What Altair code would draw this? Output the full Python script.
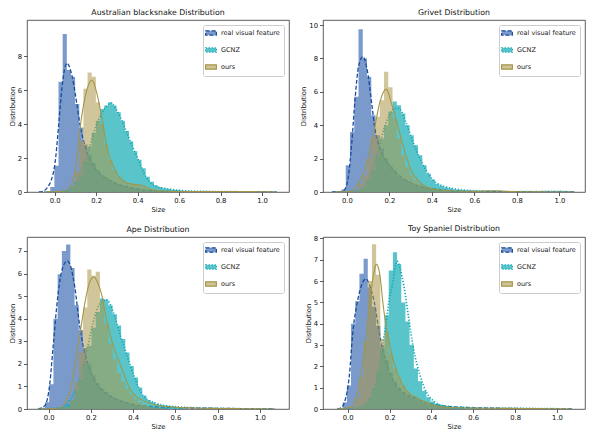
import altair as alt
import pandas as pd

SERIES = ["real visual feature", "GCNZ", "ours"]
TITLES = ["Australian blacksnake Distribution", "Grivet Distribution",
          "Ape Distribution", "Toy Spaniel Distribution"]
X_DOMAINS = [[-0.133, 1.13], [-0.112, 1.12], [-0.102, 1.137], [-0.118, 1.134]]
Y_DOMAINS = [[0, 10.15], [0, 10.3], [0, 7.62], [0, 8.07]]
Y_TICKS = [[0, 2, 4, 6, 8], [0, 2, 4, 6, 8, 10], [0, 1, 2, 3, 4, 5, 6, 7],
           [0, 1, 2, 3, 4, 5, 6, 7, 8]]
X_TICKS = [0.0, 0.2, 0.4, 0.6, 0.8, 1.0]
BIN_WIDTH = 0.02

# ---------- histogram heights (first bin left edge, heights) ----------
# Panel 1: Australian blacksnake
BLUE_1_START = -0.041
BLUE_1 = [0.05, 0.3, 1.55, 6.5, 9.33, 7.2, 6.8, 5.2, 3.8, 2.8, 2.2, 1.7, 1.3, 1.0, 0.85,
          0.7, 0.55, 0.45, 0.35, 0.3, 0.25, 0.2, 0.15, 0.12, 0.1, 0.08, 0.06, 0.05, 0.04, 0.03]
CYAN_1_START = 0.059
CYAN_1 = [0.1, 0.3, 0.6, 1.0, 1.8, 2.7, 3.5, 4.2, 4.9, 5.1, 5.3, 5.1, 4.7, 4.2, 3.6,
          3.0, 2.4, 1.9, 1.4, 0.9, 0.6, 0.4, 0.3, 0.22, 0.17, 0.14, 0.12, 0.09, 0.07, 0.05]
OURS_1_START = 0.059
OURS_1 = [0.1, 0.4, 1.2, 3.0, 6.1, 7.05, 6.8, 5.3, 4.0, 2.8, 1.9, 1.3, 0.9, 0.7, 0.55,
          0.5, 0.45, 0.4, 0.3, 0.2, 0.1, 0.06, 0.04]
# Panel 2: Grivet
BLUE_2_START = -0.045
BLUE_2 = [0.05, 0.15, 1.6, 3.6, 5.7, 9.75, 8.0, 6.9, 4.6, 3.4, 2.6, 2.0, 1.6, 1.3, 1.0,
          0.8, 0.65, 0.5, 0.4, 0.35, 0.28, 0.22, 0.18, 0.15, 0.12, 0.1, 0.08, 0.06, 0.05, 0.04]
CYAN_2_START = 0.035
CYAN_2 = [0.05, 0.12, 0.3, 0.7, 1.3, 2.2, 3.2, 4.0, 4.8, 5.42, 5.2, 4.7, 4.0, 3.4, 2.8,
          2.2, 1.6, 1.1, 0.75, 0.5, 0.38, 0.28, 0.22, 0.17, 0.13, 0.1, 0.08, 0.07, 0.06, 0.05]
OURS_2_START = 0.035
OURS_2 = [0.1, 0.5, 1.0, 2.0, 3.3, 4.5, 5.5, 7.2, 6.27, 4.4, 3.2, 2.2, 1.5, 1.0, 0.7,
          0.5, 0.35, 0.25, 0.18, 0.12, 0.09, 0.07, 0.05]
# Panel 3: Ape
BLUE_3_START = -0.037
BLUE_3 = [0.05, 0.3, 1.1, 4.0, 5.97, 7.0, 7.29, 6.25, 4.6, 3.5, 2.7, 2.0, 1.5, 1.15, 0.9,
          0.75, 0.6, 0.5, 0.42, 0.35, 0.28, 0.22, 0.18, 0.15, 0.12, 0.1, 0.08, 0.07, 0.06, 0.05]
CYAN_3_START = 0.043
CYAN_3 = [0.05, 0.1, 0.2, 0.4, 0.8, 1.3, 2.0, 2.8, 3.6, 4.3, 4.9, 4.85, 4.6, 4.2, 3.7,
          3.1, 2.5, 1.9, 1.4, 0.95, 0.6, 0.4, 0.3, 0.22, 0.18, 0.15, 0.12, 0.1, 0.08, 0.06]
OURS_3_START = 0.063
OURS_3 = [0.05, 0.1, 0.4, 1.2, 2.5, 4.5, 6.18, 5.9, 6.08, 4.8, 3.8, 2.9, 2.2, 1.6, 1.2,
          0.9, 0.65, 0.45, 0.3, 0.2, 0.12, 0.08, 0.06, 0.05]
# Panel 4: Toy Spaniel
BLUE_4_START = -0.044
BLUE_4 = [0.05, 0.3, 1.1, 4.0, 5.06, 6.34, 7.05, 5.7, 4.8, 3.9, 3.0, 2.3, 1.7, 1.3, 1.0,
          0.8, 0.65, 0.55, 0.45, 0.38, 0.32, 0.26, 0.2, 0.16, 0.13, 0.11, 0.08, 0.06, 0.05, 0.04]
CYAN_4_START = 0.036
CYAN_4 = [0.05, 0.1, 0.25, 0.5, 1.0, 1.8, 2.8, 4.4, 6.5, 7.35, 6.8, 5.0, 4.1, 3.0, 1.9,
          1.3, 0.85, 0.55, 0.35, 0.25, 0.2, 0.15, 0.12, 0.1, 0.09, 0.08, 0.07, 0.06, 0.06, 0.05]
OURS_4_START = 0.016
OURS_4 = [0.1, 0.5, 1.5, 3.2, 6.0, 7.73, 6.3, 3.3, 3.6, 2.6, 1.9, 1.5, 1.1, 0.85, 0.65,
          0.52, 0.42, 0.35, 0.28, 0.2, 0.15, 0.1, 0.08, 0.06]

# ---------- KDE curves (x, y) ----------
KDE_BLUE_1_X = [-0.076, -0.05, -0.03, -0.019, 0.005, 0.02, 0.036, 0.059, 0.083, 0.106, 0.122,
                0.15, 0.175, 0.2, 0.25, 0.3, 0.35, 0.4, 0.5, 0.6, 0.8, 1.07]
KDE_BLUE_1_Y = [0.0, 0.08, 0.35, 0.6, 2.0, 4.0, 6.2, 7.6, 6.9, 5.3, 4.0,
                2.6, 1.8, 1.3, 0.8, 0.48, 0.3, 0.18, 0.06, 0.03, 0.01, 0.0]
KDE_CYAN_1_X = [-0.05, 0.05, 0.1, 0.15, 0.2, 0.225, 0.25, 0.27, 0.3, 0.325, 0.35, 0.375,
                0.4, 0.44, 0.49, 0.55, 0.6, 0.7, 0.85, 1.07]
KDE_CYAN_1_Y = [0.0, 0.05, 0.5, 1.9, 3.9, 4.6, 5.05, 5.25, 4.8, 4.2, 3.45, 2.7,
                2.0, 0.9, 0.32, 0.18, 0.1, 0.04, 0.02, 0.0]
KDE_OURS_1_X = [-0.05, 0.04, 0.067, 0.1, 0.13, 0.155, 0.181, 0.2, 0.223, 0.255, 0.286, 0.333,
                0.38, 0.405, 0.43, 0.46, 0.5, 0.6, 0.85, 1.07]
KDE_OURS_1_Y = [0.0, 0.05, 0.2, 1.3, 4.4, 6.0, 6.6, 6.0, 4.7, 2.5, 1.45, 0.64,
                0.45, 0.42, 0.35, 0.18, 0.08, 0.03, 0.03, 0.0]

KDE_BLUE_2_X = [-0.07, -0.03, -0.01, 0.008, 0.023, 0.039, 0.055, 0.075, 0.1, 0.117, 0.132,
                0.156, 0.2, 0.25, 0.3, 0.35, 0.4, 0.5, 0.6, 0.8, 1.07]
KDE_BLUE_2_Y = [0.0, 0.02, 0.15, 1.0, 2.9, 5.6, 7.5, 8.1, 7.0, 5.3, 3.8,
                2.6, 1.6, 0.95, 0.55, 0.32, 0.2, 0.08, 0.04, 0.02, 0.0]
KDE_CYAN_2_X = [-0.05, 0.05, 0.075, 0.1, 0.125, 0.15, 0.175, 0.2, 0.225, 0.245, 0.28, 0.311,
                0.342, 0.373, 0.404, 0.435, 0.482, 0.53, 0.59, 0.7, 0.85, 0.98, 1.07]
KDE_CYAN_2_Y = [0.0, 0.1, 0.25, 0.7, 1.5, 2.6, 3.8, 4.6, 5.0, 5.0, 4.1, 3.0,
                2.05, 1.3, 0.72, 0.44, 0.25, 0.15, 0.08, 0.04, 0.02, 0.04, 0.0]
KDE_OURS_2_X = [-0.05, 0.02, 0.039, 0.07, 0.1, 0.132, 0.156, 0.185, 0.21, 0.233, 0.264, 0.3,
                0.342, 0.4, 0.5, 0.6, 0.7, 0.75, 0.85, 1.07]
KDE_OURS_2_Y = [0.0, 0.05, 0.25, 0.9, 2.05, 3.95, 5.4, 6.15, 5.3, 4.3, 2.8, 1.4,
                0.6, 0.2, 0.07, 0.04, 0.07, 0.04, 0.01, 0.0]

KDE_BLUE_3_X = [-0.05, -0.018, 0.006, 0.021, 0.045, 0.065, 0.088, 0.105, 0.124, 0.147, 0.163,
                0.197, 0.228, 0.27, 0.3, 0.35, 0.4, 0.5, 0.6, 0.8, 1.07]
KDE_BLUE_3_Y = [0.0, 0.14, 1.14, 2.7, 5.1, 6.2, 6.56, 6.3, 5.4, 3.7, 2.84,
                1.7, 1.1, 0.7, 0.52, 0.33, 0.2, 0.1, 0.06, 0.03, 0.0]
KDE_CYAN_3_X = [-0.05, 0.05, 0.1, 0.15, 0.175, 0.2, 0.225, 0.25, 0.276, 0.307, 0.339, 0.37,
                0.4, 0.449, 0.5, 0.54, 0.6, 0.7, 0.85, 1.07]
KDE_CYAN_3_Y = [0.0, 0.05, 0.4, 1.4, 2.3, 3.4, 4.3, 4.75, 4.83, 4.26, 3.27, 2.4,
                1.56, 0.57, 0.28, 0.17, 0.1, 0.05, 0.02, 0.0]
KDE_OURS_3_X = [-0.05, 0.05, 0.079, 0.11, 0.133, 0.157, 0.18, 0.198, 0.214, 0.232, 0.25, 0.274,
                0.305, 0.344, 0.391, 0.454, 0.5, 0.55, 0.6, 0.7, 0.85, 1.07]
KDE_OURS_3_Y = [0.0, 0.04, 0.28, 1.14, 2.4, 3.84, 5.1, 5.7, 5.85, 5.6, 5.1, 3.98,
                2.84, 1.85, 0.8, 0.35, 0.2, 0.12, 0.08, 0.04, 0.02, 0.0]

KDE_BLUE_4_X = [-0.05, -0.03, -0.016, 0.008, 0.024, 0.047, 0.07, 0.087, 0.105, 0.126, 0.157,
                0.189, 0.22, 0.268, 0.315, 0.378, 0.457, 0.55, 0.7, 0.85, 1.07]
KDE_BLUE_4_Y = [0.0, 0.07, 0.3, 1.58, 3.55, 5.06, 5.9, 6.11, 5.8, 5.06, 3.25,
                2.04, 1.28, 0.75, 0.53, 0.3, 0.15, 0.08, 0.04, 0.02, 0.0]
KDE_CYAN_4_X = [-0.05, 0.05, 0.075, 0.1, 0.125, 0.15, 0.17, 0.181, 0.197, 0.213, 0.236, 0.25,
                0.268, 0.291, 0.315, 0.346, 0.378, 0.41, 0.457, 0.55, 0.65, 0.8, 0.95, 1.07]
KDE_CYAN_4_Y = [0.0, 0.08, 0.15, 0.4, 0.9, 1.9, 3.2, 3.85, 5.06, 5.8, 6.94, 6.6,
                5.8, 4.3, 2.8, 1.58, 0.75, 0.38, 0.15, 0.08, 0.05, 0.03, 0.02, 0.0]
KDE_OURS_4_X = [-0.05, 0.016, 0.039, 0.063, 0.087, 0.11, 0.125, 0.137, 0.15, 0.173, 0.205,
                0.236, 0.283, 0.331, 0.378, 0.457, 0.55, 0.75, 0.9, 1.07]
KDE_OURS_4_Y = [0.0, 0.1, 0.53, 1.58, 3.25, 5.36, 6.4, 6.79, 6.5, 4.6, 2.8,
                1.74, 0.83, 0.53, 0.3, 0.1, 0.05, 0.03, 0.02, 0.0]

PANELS = [
    ([BLUE_1_START, CYAN_1_START, OURS_1_START], [BLUE_1, CYAN_1, OURS_1],
     [(KDE_BLUE_1_X, KDE_BLUE_1_Y), (KDE_CYAN_1_X, KDE_CYAN_1_Y), (KDE_OURS_1_X, KDE_OURS_1_Y)]),
    ([BLUE_2_START, CYAN_2_START, OURS_2_START], [BLUE_2, CYAN_2, OURS_2],
     [(KDE_BLUE_2_X, KDE_BLUE_2_Y), (KDE_CYAN_2_X, KDE_CYAN_2_Y), (KDE_OURS_2_X, KDE_OURS_2_Y)]),
    ([BLUE_3_START, CYAN_3_START, OURS_3_START], [BLUE_3, CYAN_3, OURS_3],
     [(KDE_BLUE_3_X, KDE_BLUE_3_Y), (KDE_CYAN_3_X, KDE_CYAN_3_Y), (KDE_OURS_3_X, KDE_OURS_3_Y)]),
    ([BLUE_4_START, CYAN_4_START, OURS_4_START], [BLUE_4, CYAN_4, OURS_4],
     [(KDE_BLUE_4_X, KDE_BLUE_4_Y), (KDE_CYAN_4_X, KDE_CYAN_4_Y), (KDE_OURS_4_X, KDE_OURS_4_Y)]),
]

BAR_COLORS = ["rgba(51,102,176,0.66)", "rgba(18,173,181,0.7)", "rgba(172,152,72,0.55)"]
LINE_COLORS = ["#1a4c9c", "#11a6b5", "#a39645"]
LINE_WIDTHS = [1.3, 1.7, 1.1]
DASHES = [[4, 2], [1.2, 1.8], [1, 0]]

FONT = "DejaVu Sans"
W, H = 262, 172


def panel(idx):
    starts, heights, kdes = PANELS[idx]
    xs = alt.Scale(domain=X_DOMAINS[idx], nice=False, zero=False)
    ys = alt.Scale(domain=Y_DOMAINS[idx], nice=False)
    xaxis = alt.Axis(values=X_TICKS, format=".1f", title="Size")
    yaxis = alt.Axis(values=Y_TICKS[idx], format="d", title="Distribution")
    fill_scale = alt.Scale(domain=SERIES, range=BAR_COLORS)
    stroke_scale = alt.Scale(domain=SERIES, range=LINE_COLORS)
    dash_scale = alt.Scale(domain=SERIES, range=DASHES)
    legend = alt.Legend(
        title=None, orient="top-right", offset=5,
        symbolType="M-1.6,-0.65H1.6V0.65H-1.6Z", symbolSize=45,
        symbolStrokeWidth=1.2, labelFont=FONT, labelFontSize=6.5, labelColor="#222",
        labelOffset=6, rowPadding=7, padding=4,
        fillColor="white", strokeColor="#cccccc", cornerRadius=2,
    )
    layers = []
    for k, name in enumerate(SERIES):
        xs_pts = [starts[k] + i * BIN_WIDTH for i in range(len(heights[k]))]
        xs_pts.append(starts[k] + len(heights[k]) * BIN_WIDTH)
        hs = list(heights[k]) + [heights[k][-1]]
        bdf = pd.DataFrame({"series": name, "x0": xs_pts, "h": hs})
        bars = alt.Chart(bdf).mark_area(interpolate="step-after", strokeWidth=0,
                                        opacity=1).encode(
            x=alt.X("x0:Q", scale=xs, axis=xaxis),
            y=alt.Y("h:Q", scale=ys, axis=yaxis),
            fill=alt.Fill("series:N", scale=fill_scale, legend=legend),
        )
        kx, ky = kdes[k]
        ldf = pd.DataFrame({"series": name, "x": kx, "y": ky})
        line = alt.Chart(ldf).mark_line(strokeWidth=LINE_WIDTHS[k], interpolate="monotone",
                                        clip=True).encode(
            x=alt.X("x:Q", scale=xs, axis=xaxis),
            y=alt.Y("y:Q", scale=ys, axis=yaxis),
            stroke=alt.Stroke("series:N", scale=stroke_scale, legend=legend),
            strokeDash=alt.StrokeDash("series:N", scale=dash_scale, legend=legend),
        )
        layers += [bars, line]
    return alt.layer(*layers).properties(
        width=W, height=H,
        title=alt.TitleParams(TITLES[idx], font=FONT, fontSize=7.8, fontWeight="normal",
                              color="#111", offset=3),
    )


chart = alt.concat(*[panel(i) for i in range(4)], columns=2, spacing=10).resolve_scale(
    fill="independent", stroke="independent", strokeDash="independent"
).properties(padding=0).configure_view(
    stroke="#333", strokeWidth=0.8
).configure_axis(
    domain=False, grid=False, tickColor="#333", tickSize=3.5, tickWidth=0.8,
    labelFont=FONT, labelFontSize=6.8, labelColor="#111", labelPadding=2,
    titleFont=FONT, titleFontSize=6.8, titleFontWeight="normal", titleColor="#111",
    titlePadding=2,
)

chart.save("out.html", embed_options={"renderer": "svg", "actions": False})
